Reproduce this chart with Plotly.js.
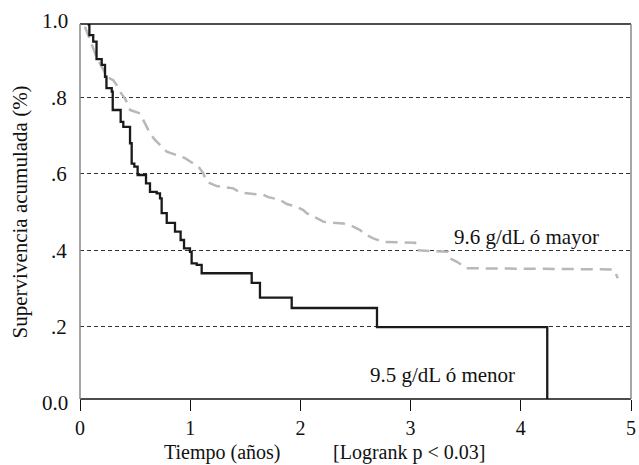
<!DOCTYPE html>
<html>
<head>
<meta charset="utf-8">
<script src="https://cdn.plot.ly/plotly-3.0.1.min.js"></script>
<style>html,body{margin:0;padding:0;background:#fff;}#chart{width:639px;height:465px;}</style>
</head>
<body>
<div id="chart"></div>
<script>
// Group: 9.5 g/dL ó menor (solid black, step curve)
const lowTime = [0.07,0.085,0.12,0.15,0.197,0.227,0.24,0.288,0.297,0.369,0.393,0.454,0.469,0.493,0.523,0.599,0.635,0.696,0.726,0.741,0.787,0.862,0.913,0.944,0.998,1.013,1.059,1.104,1.558,1.633,1.921,2.695,4.24];
const lowSurv = [0.99,0.963,0.946,0.90,0.885,0.854,0.824,0.815,0.767,0.736,0.723,0.68,0.627,0.619,0.597,0.575,0.553,0.549,0.536,0.497,0.472,0.449,0.427,0.405,0.396,0.366,0.362,0.34,0.315,0.276,0.249,0.199,0.0];

// Group: 9.6 g/dL ó mayor (dashed grey)
const highTime = [0.045,0.106,0.15,0.212,0.242,0.302,0.333,0.363,0.408,0.447,0.454,0.544,0.575,0.635,0.68,0.741,0.787,0.877,0.953,1.028,1.074,1.119,1.15,1.24,1.391,1.452,1.543,1.663,1.709,1.815,1.876,1.966,2.026,2.057,2.148,2.208,2.299,2.39,2.48,2.541,2.601,2.661,2.752,3.04,3.055,3.34,3.357,3.42,3.509,4.84,4.86,4.88];
const highSurv = [0.985,0.941,0.906,0.872,0.854,0.845,0.832,0.815,0.797,0.776,0.767,0.758,0.741,0.706,0.689,0.671,0.658,0.649,0.641,0.627,0.619,0.601,0.579,0.568,0.562,0.551,0.549,0.545,0.539,0.532,0.521,0.514,0.505,0.497,0.484,0.475,0.472,0.47,0.462,0.453,0.44,0.431,0.422,0.42,0.40,0.396,0.379,0.37,0.353,0.35,0.34,0.327];

const xTicks = [0,1,2,3,4,5];
const yTickVals = [0.2,0.4,0.6,0.8];
const yTickText = ['.2','.4','.6','.8'];
const yEndVals = [0,1];
const yEndText = ['0.0','1.0'];
const labelHigh = '9.6 g/dL ó mayor';
const labelLow = '9.5 g/dL ó menor';

const serif = 'Liberation Serif, Times New Roman, serif';
const FS = 21;
const yRange = [0.011, 0.992];

const traces = [
  {x: highTime, y: highSurv, type:'scatter', mode:'lines',
   line:{color:'#b8b8b8', width:2.5, dash:'12px,7px'}, hoverinfo:'skip'},
  {x: lowTime, y: lowSurv, type:'scatter', mode:'lines',
   line:{color:'#1a1a1a', width:2.3, shape:'hv'}, hoverinfo:'skip'}
];

const annotations = [];
yEndVals.forEach((v, i) => annotations.push({
  x:0, xref:'paper', xanchor:'right', xshift:-10,
  y:(v - yRange[0]) / (yRange[1] - yRange[0]), yref:'paper', yanchor:'middle',
  text:yEndText[i], showarrow:false,
  font:{family:serif, size:FS, color:'#111'}
}));
annotations.push({x:-0.109, xref:'paper', y:0.5, yref:'paper', text:'Supervivencia acumulada (%)',
  textangle:-90, showarrow:false, xanchor:'center', yanchor:'middle',
  font:{family:serif, size:FS, color:'#111'}});
annotations.push({x:(222-80)/551, xref:'paper', y:(399-453)/375, yref:'paper', text:'Tiempo (años)',
  showarrow:false, xanchor:'center', yanchor:'middle', font:{family:serif, size:20, color:'#111'}});
annotations.push({x:(409-80)/551, xref:'paper', y:(399-453)/375, yref:'paper', text:'[Logrank p &lt; 0.03]',
  showarrow:false, xanchor:'center', yanchor:'middle', font:{family:serif, size:20, color:'#111'}});
annotations.push({x:4.728, xref:'x', y:0.435, yref:'y', text:labelHigh, showarrow:false,
  xanchor:'right', yanchor:'middle', font:{family:serif, size:FS, color:'#111'}});
annotations.push({x:3.966, xref:'x', y:0.074, yref:'y', text:labelLow, showarrow:false,
  xanchor:'right', yanchor:'middle', font:{family:serif, size:FS, color:'#111'}});

const shapes = [
  {type:'line', xref:'paper', yref:'paper', x0:0, x1:1, y0:1, y1:1, line:{color:'#111', width:1.5}},
  {type:'line', xref:'paper', yref:'paper', x0:0, x1:1, y0:0, y1:0, line:{color:'#111', width:1.5}},
  {type:'line', xref:'paper', yref:'paper', x0:0, x1:0, y0:0, y1:1, line:{color:'#888', width:1.5}},
  {type:'line', xref:'paper', yref:'paper', x0:1, x1:1, y0:0, y1:1, line:{color:'#888', width:1.5}}
];

const layout = {
  width:639, height:465,
  margin:{l:80, r:8, t:24, b:66, pad:0},
  paper_bgcolor:'#fff', plot_bgcolor:'#fff',
  showlegend:false,
  xaxis:{range:[0,5], tickvals:xTicks, ticktext:xTicks.map(String), ticks:'outside', ticklen:11,
    tickwidth:1, tickcolor:'#111', showgrid:false, zeroline:false, showline:false,
    tickfont:{family:serif, size:20, color:'#111'}, fixedrange:true},
  yaxis:{range:yRange, tickvals:yTickVals, ticktext:yTickText, ticks:'outside', ticklen:8,
    tickcolor:'rgba(0,0,0,0)', showgrid:true, gridcolor:'#333', gridwidth:1, griddash:'4px,3px',
    zeroline:false, showline:false, tickfont:{family:serif, size:FS, color:'#111'}, fixedrange:true},
  annotations:annotations,
  shapes:shapes
};

Plotly.newPlot('chart', traces, layout, {displayModeBar:false, staticPlot:true});
</script>
</body>
</html>
